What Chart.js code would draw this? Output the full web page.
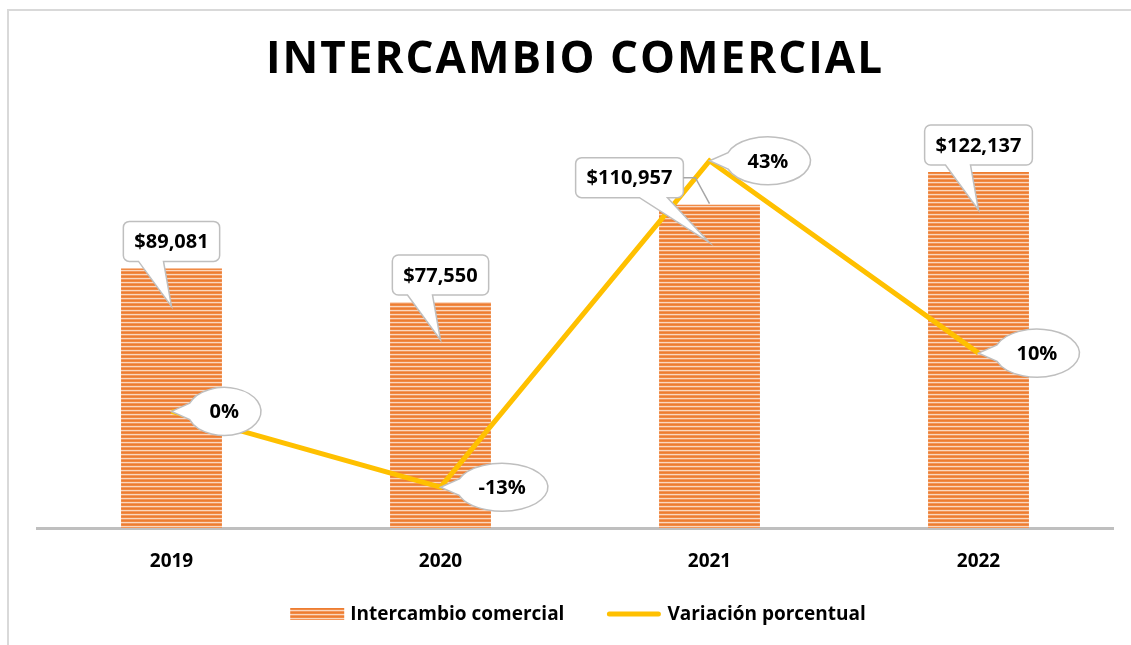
<!DOCTYPE html>
<html>
<head>
<meta charset="utf-8">
<script src="https://cdn.jsdelivr.net/npm/chart.js@4.4.0/dist/chart.umd.min.js"></script>
<style>
  body{margin:0;background:#fff}
  #wrap{position:relative;width:1131px;height:645px;overflow:hidden}
  #frame{position:absolute;left:7px;top:9px;width:1200px;height:700px;border-top:2px solid #d9d9d9;border-left:2px solid #d9d9d9}
  canvas{position:absolute;left:0;top:0}
</style>
</head>
<body>
<div id="wrap">
  <div id="frame"></div>
  <canvas id="c" width="1131" height="645"></canvas>
</div>
<script>
// datos
const years = ['2019', '2020', '2021', '2022'];
const intercambio = [89081, 77550, 110957, 122137];
const variacion = [0, -13, 43, 10];

const FONT = '"Open Sans", sans-serif';
const YELLOW = '#FFC000';
const GRAY = '#BFBFBF';

// desplazamiento horizontal de las etiquetas de barra (2021 movida a la izquierda)
const barLabelShift = [0, 0, -80, 0];

// patrón de rayas horizontales
function stripePattern(ctx) {
  const p = document.createElement('canvas');
  p.width = 8; p.height = 4;
  const g = p.getContext('2d');
  const rows = ['#ED7D31', '#F08A45', '#FAD8C0', '#F2975C'];
  rows.forEach((c, i) => { g.fillStyle = c; g.fillRect(0, i, 8, 1); });
  return ctx.createPattern(p, 'repeat');
}

const fmtMoney = v => '$' + v.toLocaleString('en-US');
const fmtPct = v => v + '%';

function boxCallout(ctx, text, cx, bottom, tipX, tipY) {
  ctx.font = 'bold 20px ' + FONT;
  const w = ctx.measureText(text).width + 22;
  const h = 40, r = 6;
  const l = cx - w / 2, t = bottom - h, rr = cx + w / 2;
  const b0 = tipX > cx ? cx + 10 : cx - 33;
  const b1 = tipX > cx ? cx + 38 : cx - 8;
  ctx.beginPath();
  ctx.moveTo(l + r, t);
  ctx.lineTo(rr - r, t);
  ctx.arcTo(rr, t, rr, t + r, r);
  ctx.lineTo(rr, bottom - r);
  ctx.arcTo(rr, bottom, rr - r, bottom, r);
  ctx.lineTo(b1, bottom);
  ctx.lineTo(tipX, tipY);
  ctx.lineTo(b0, bottom);
  ctx.lineTo(l + r, bottom);
  ctx.arcTo(l, bottom, l, bottom - r, r);
  ctx.lineTo(l, t + r);
  ctx.arcTo(l, t, l + r, t, r);
  ctx.closePath();
  ctx.fillStyle = '#fff';
  ctx.fill();
  ctx.lineWidth = 1.5;
  ctx.strokeStyle = GRAY;
  ctx.stroke();
  ctx.fillStyle = '#000';
  ctx.textAlign = 'center';
  ctx.textBaseline = 'middle';
  ctx.fillText(text, cx, t + h / 2 + 1);
  return { l, t, rr, bottom };
}

function ovalCallout(ctx, text, px, py) {
  ctx.font = 'bold 20px ' + FONT;
  const rx = ctx.measureText(text).width / 2 + 22;
  const ry = 24;
  const cx = px + 16 + rx, cy = py;
  const th = 0.35;
  ctx.beginPath();
  ctx.ellipse(cx, cy, rx, ry, 0, Math.PI + th, 3 * Math.PI - th, false);
  ctx.lineTo(px, py);
  ctx.closePath();
  ctx.fillStyle = '#fff';
  ctx.fill();
  ctx.lineWidth = 1.5;
  ctx.strokeStyle = GRAY;
  ctx.stroke();
  ctx.fillStyle = '#000';
  ctx.textAlign = 'center';
  ctx.textBaseline = 'middle';
  ctx.fillText(text, cx, cy + 1);
}

const callouts = {
  id: 'callouts',
  afterDatasetsDraw(chart) {
    const ctx = chart.ctx;
    ctx.save();
    const bars = chart.getDatasetMeta(0).data;
    bars.forEach((bar, i) => {
      const cx = bar.x + barLabelShift[i];
      const box = boxCallout(ctx, fmtMoney(intercambio[i]), cx, bar.y - 7, bar.x, bar.y + 38);
      if (barLabelShift[i] !== 0) {
        // línea guía
        const my = (box.t + box.bottom) / 2;
        ctx.beginPath();
        ctx.moveTo(box.rr, my);
        ctx.lineTo(box.rr + 12, my);
        ctx.lineTo(bar.x, bar.y - 1);
        ctx.lineWidth = 1.5;
        ctx.strokeStyle = '#A6A6A6';
        ctx.stroke();
      }
    });
    const pts = chart.getDatasetMeta(1).data;
    pts.forEach((p, i) => ovalCallout(ctx, fmtPct(variacion[i]), p.x, p.y));
    ctx.restore();
  }
};

const titleAndLegend = {
  id: 'titleAndLegend',
  afterDraw(chart) {
    const ctx = chart.ctx;
    ctx.save();
    // título
    ctx.font = 'bold 44px ' + FONT;
    ctx.letterSpacing = '2px';
    ctx.fillStyle = '#000';
    ctx.textAlign = 'center';
    ctx.textBaseline = 'middle';
    ctx.fillText('INTERCAMBIO COMERCIAL', 575, 60);
    ctx.letterSpacing = '0px';
    // leyenda
    ctx.font = 'bold 19px ' + FONT;
    const t1 = 'Intercambio comercial', t2 = 'Variación porcentual';
    const w1 = ctx.measureText(t1).width, w2 = ctx.measureText(t2).width;
    const total = 54 + 6 + w1 + 42 + 55 + 6 + w2;
    let x = 578 - total / 2;
    const y = 614;
    ctx.fillStyle = stripePattern(ctx);
    ctx.fillRect(x, y - 6, 54, 12);
    x += 60;
    ctx.fillStyle = '#000';
    ctx.textAlign = 'left';
    ctx.fillText(t1, x, y + 1);
    x += w1 + 42;
    ctx.beginPath();
    ctx.moveTo(x + 3, y);
    ctx.lineTo(x + 52, y);
    ctx.lineWidth = 5;
    ctx.lineCap = 'round';
    ctx.strokeStyle = YELLOW;
    ctx.stroke();
    x += 61;
    ctx.fillText(t2, x, y + 1);
    ctx.restore();
  }
};

const canvas = document.getElementById('c');
const ctx = canvas.getContext('2d');

new Chart(canvas, {
  data: {
    labels: years,
    datasets: [
      {
        type: 'bar',
        label: 'Intercambio comercial',
        data: intercambio,
        backgroundColor: stripePattern(ctx),
        borderWidth: 0,
        barPercentage: 0.375,
        categoryPercentage: 1,
        yAxisID: 'y',
        order: 2,
      },
      {
        type: 'line',
        label: 'Variación porcentual',
        data: variacion,
        borderColor: YELLOW,
        borderWidth: 5,
        pointRadius: 0,
        tension: 0,
        yAxisID: 'y2',
        order: 1,
      }
    ]
  },
  options: {
    responsive: false,
    animation: false,
    layout: { padding: { left: 37, right: 18, top: 120, bottom: 77 } },
    plugins: { legend: { display: false }, tooltip: { enabled: false }, title: { display: false } },
    scales: {
      x: {
        grid: { display: false, drawTicks: false },
        border: { display: true, color: GRAY, width: 3 },
        ticks: { color: '#000', font: { family: FONT, size: 19, weight: 'bold' }, padding: 22 },
        afterFit: s => { s.height = 40; },
      },
      y: { display: false, min: 0, max: 140000 },
      y2: { display: false, min: -20, max: 50, position: 'right' },
    }
  },
  plugins: [callouts, titleAndLegend]
});
</script>
</body>
</html>
